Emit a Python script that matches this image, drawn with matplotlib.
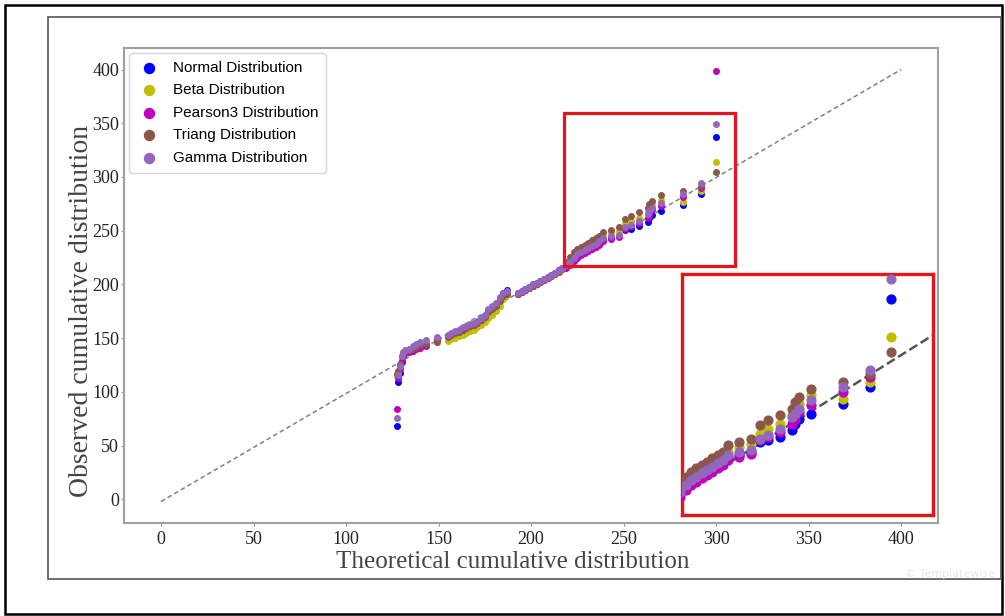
import matplotlib
matplotlib.use('Agg')
import matplotlib.pyplot as plt
from matplotlib.patches import Rectangle

# Data (shared theoretical x, one observed series per fit)
x_vals = [127.5, 128, 129, 130, 131, 132, 134, 136, 138, 140, 143, 149,
          155, 157, 159, 161, 163, 165, 167, 169, 171, 173, 175, 177, 179, 181, 183, 185, 187,
          193, 195, 197, 199, 201, 203, 205, 207, 209, 211, 213, 215, 217,
          219, 221, 223, 225, 227, 229, 231, 233, 235, 237, 239,
          243, 247.5, 251, 254, 258.5, 263, 264, 265.5, 270, 282, 292, 300]

normal_y = [68, 109, 118, 128, 134, 137, 138, 139, 141, 143, 144, 148,
            152, 154, 156, 157, 159, 160, 162, 163, 165, 168, 171, 176, 179, 182, 187, 192, 195,
            192, 194, 196, 198, 200, 201, 203, 205, 207, 209, 211, 213, 215,
            217, 220, 224, 227, 229, 231, 233, 235, 237, 239, 242,
            243, 245, 251, 252, 254, 258, 262, 265, 268, 274, 284, 337]

beta_y = [115, 118, 124, 131, 134, 136, 137, 139, 141, 143, 144, 146,
          147, 149, 150, 152, 153, 155, 157, 158, 160, 162, 165, 169, 172, 175, 180, 186, 190,
          191, 193, 195, 197, 199, 200, 202, 204, 206, 208, 210, 212, 215,
          219, 223, 227, 230, 232, 234, 236, 238, 240, 242, 245,
          248, 250, 256, 259, 262, 267, 270, 274, 279, 277, 287, 314]

pearson3_y = [84, 113, 121, 129, 133, 136, 137, 138, 140, 141, 143, 149,
              152, 154, 156, 157, 159, 160, 162, 163, 165, 167, 171, 175, 178, 181, 186, 190, 192,
              191, 193, 195, 197, 199, 200, 202, 204, 206, 208, 211, 213, 214,
              215, 218, 222, 225, 227, 229, 231, 233, 235, 237, 240,
              242, 244, 252, 254, 257, 262, 265, 269, 273, 281, 290, 399]

triang_y = [117, 119, 126, 133, 136, 138, 139, 140, 142, 144, 145, 146,
            151, 153, 155, 156, 158, 159, 161, 162, 164, 167, 170, 174, 177, 180, 185, 189, 191,
            191, 193, 195, 197, 199, 200, 202, 204, 206, 208, 210, 212, 214,
            221, 226, 230, 233, 235, 237, 239, 241, 243, 245, 249,
            251, 253, 261, 264, 267, 271, 275, 278, 283, 287, 292, 305]

gamma_y = [76, 116, 124, 133, 137, 139, 140, 143, 145, 146, 148, 151,
           153, 155, 157, 158, 160, 161, 163, 164, 166, 169, 172, 177, 180, 183, 188, 192, 194,
           192, 194, 196, 198, 200, 201, 203, 205, 207, 209, 211, 213, 215,
           218, 221, 225, 228, 230, 232, 234, 236, 238, 240, 243,
           245, 246, 253, 255, 259, 266, 268, 271, 276, 284, 294, 349]

series_names = ['Normal Distribution', 'Beta Distribution', 'Pearson3 Distribution',
                'Triang Distribution', 'Gamma Distribution']
series_colors = ['b', 'y', 'm', 'tab:brown', 'tab:purple']
series_values = [normal_y, beta_y, pearson3_y, triang_y, gamma_y]

line_x = [0, 400]
line_y = [-2, 400]

x_ticks = [0, 50, 100, 150, 200, 250, 300, 350, 400]
y_ticks = [0, 50, 100, 150, 200, 250, 300, 350, 400]

# highlighted region and inset view limits
zoom_box = (218, 217, 92, 143)
inset_xlim = (221.6, 315.7)
inset_ylim = (207, 352)

fig = plt.figure(figsize=(10.05, 6.16), dpi=100)

# picture frames
fig.add_artist(Rectangle((5 / 1005, 2 / 616), 997 / 1005, 609 / 616, transform=fig.transFigure,
                         fill=False, edgecolor='black', linewidth=1.8))
fig.add_artist(Rectangle((48 / 1005, 37 / 616), 953 / 1005, 562 / 616, transform=fig.transFigure,
                         fill=False, edgecolor='#555555', linewidth=1.2))

ax = fig.add_axes([0.1234, 0.151, 0.81, 0.771])

for name, color, vals in zip(series_names, series_colors, series_values):
    ax.scatter(x_vals, vals, s=16, color=color, label=name, zorder=3)
ax.plot(line_x, line_y, linestyle='--', color='#808080', linewidth=1.1, dashes=(3, 2), zorder=2)

ax.set_xlim(-20, 420)
ax.set_ylim(-22, 420)
ax.set_xticks(x_ticks)
ax.set_yticks(y_ticks)

serif = 'Liberation Serif'
for lab in ax.get_xticklabels() + ax.get_yticklabels():
    lab.set_fontfamily(serif)
    lab.set_fontsize(13)
    lab.set_color('#222222')
ax.tick_params(axis='y', length=2.5, pad=1, color='#999999')
ax.tick_params(axis='x', length=2.5, pad=3, color='#999999')

for sp in ax.spines.values():
    sp.set_color('#a0a0a0')
    sp.set_linewidth(1.5)

ax.set_xlabel('Theoretical cumulative distribution', fontfamily=serif, fontsize=18, color='#444444')
ax.set_ylabel('Observed cumulative distribution', fontfamily=serif, fontsize=20, color='#444444')
ax.xaxis.set_label_coords(0.477, -0.058)
ax.yaxis.set_label_coords(-0.037, 0.446)

ax.legend(loc='upper left', prop={'family': 'Liberation Sans', 'size': 11}, markerscale=1.8,
          handlelength=1.6, handletextpad=0.75, borderaxespad=0.33, borderpad=0.5,
          labelspacing=0.56, scatterpoints=1)

ax.add_patch(Rectangle(zoom_box[:2], zoom_box[2], zoom_box[3], fill=False,
                       edgecolor='#e8141c', linewidth=2.3, zorder=5))

# zoomed inset
axin = fig.add_axes([0.6786, 0.164, 0.2498, 0.391])
for color, vals in zip(series_colors, series_values):
    axin.scatter(x_vals, vals, s=40, color=color, zorder=3)
axin.plot(line_x, line_y, linestyle='--', color='#555555', linewidth=1.8, zorder=2)
axin.set_xlim(*inset_xlim)
axin.set_ylim(*inset_ylim)
axin.set_xticks([])
axin.set_yticks([])
for sp in axin.spines.values():
    sp.set_color('#e8141c')
    sp.set_linewidth(2.4)

fig.text(0.945, 0.068, '\u00a9 Templatewise', fontsize=8, color='#e8e8e8', ha='center', va='center')

fig.savefig('out.png', dpi=100)
